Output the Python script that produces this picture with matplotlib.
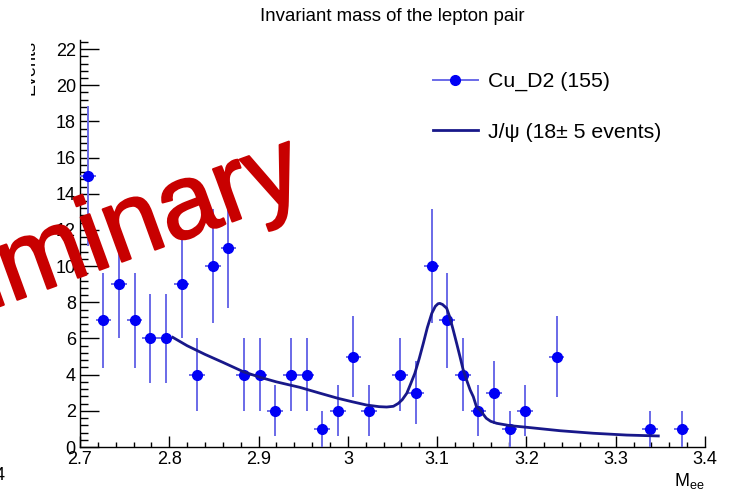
import numpy as np
import matplotlib
matplotlib.use('Agg')
import matplotlib.pyplot as plt
import matplotlib.patheffects as pe
from matplotlib.lines import Line2D
from matplotlib.patches import Rectangle

plt.rcParams['font.family'] = ['Liberation Sans', 'DejaVu Sans']
plt.rcParams['mathtext.default'] = 'regular'

# histogram: 40 bins between 2.7 and 3.4
mass_lo, mass_hi, nbins = 2.7, 3.4, 40
counts = [15, 7, 9, 7, 6, 6, 9, 4, 10, 11,
          4, 4, 2, 4, 4, 1, 2, 5, 2, 0,
          4, 3, 10, 7, 4, 2, 3, 1, 2, 0,
          5, 0, 0, 0, 0, 0, 1, 0, 1, 0]

# fit curve
fit_x = [2.804, 2.82, 2.84, 2.86, 2.883, 2.902, 2.92, 2.946, 2.969, 2.989,
         3.005, 3.021, 3.035, 3.0435, 3.051, 3.0565, 3.061, 3.066, 3.070, 3.075,
         3.080, 3.0845, 3.089, 3.094, 3.098, 3.101, 3.103, 3.106, 3.1107, 3.114,
         3.118, 3.122, 3.1256, 3.129, 3.133, 3.137, 3.1405, 3.144, 3.148, 3.155,
         3.160, 3.1667, 3.1816, 3.2003, 3.2376, 3.2749, 3.3123, 3.3477]
fit_y = [6.06, 5.60, 5.12, 4.68, 4.16, 3.85, 3.60, 3.30, 2.97, 2.69,
         2.50, 2.32, 2.23, 2.21, 2.25, 2.41, 2.62, 2.97, 3.45, 4.07,
         4.90, 5.73, 6.60, 7.39, 7.78, 7.92, 7.94, 7.88, 7.67, 7.20,
         6.47, 5.70, 4.99, 4.30, 3.70, 3.15, 2.78, 2.23, 2.05, 1.59,
         1.42, 1.31, 1.18, 1.09, 0.90, 0.76, 0.66, 0.61]

title = "Invariant mass of the lepton pair"
data_label = "Cu_D2 (155)"
fit_label = "J/\u03c8 (18\u00b1 5 events)"

edges = np.linspace(mass_lo, mass_hi, nbins + 1)
centers = 0.5 * (edges[:-1] + edges[1:])
counts = np.array(counts, dtype=float)
keep = counts > 0

W, H = 739, 492
fig = plt.figure(figsize=(W / 100, H / 100), dpi=100)
ax = fig.add_axes([80 / W, 1 - 447 / H, 625 / W, 407 / H])

ax.errorbar(centers[keep], counts[keep], yerr=np.sqrt(counts[keep]),
            xerr=0.5 * (edges[1] - edges[0]), fmt='o', color='#0000f5',
            ecolor='#6a6ae8', elinewidth=1.4, markersize=7, capsize=0, zorder=3)
ax.plot(fit_x, fit_y, color='#18188a', lw=2.0, zorder=4)

ax.set_xlim(mass_lo, mass_hi)
ax.set_ylim(0, 22.5)
ax.set_xticks(np.arange(2.7, 3.41, 0.1))
ax.set_xticklabels(['2.7', '2.8', '2.9', '3', '3.1', '3.2', '3.3', '3.4'])
ax.set_xticks(np.arange(2.7, 3.401, 0.02), minor=True)
ax.set_yticks(np.arange(0, 23, 2))
ax.set_yticks(np.arange(0, 22.5, 0.4), minor=True)
for s in ['top', 'right']:
    ax.spines[s].set_visible(False)
for s in ['left', 'bottom']:
    ax.spines[s].set_linewidth(1.0)
ax.tick_params(axis='both', which='both', direction='in', width=1.0, labelsize=13)
ax.tick_params(axis='y', which='major', length=13.5, pad=3)
ax.tick_params(axis='y', which='minor', length=5.8)
ax.tick_params(axis='x', which='major', length=8, pad=3)
ax.tick_params(axis='x', which='minor', length=3.6)

fig.text(392 / W, 1 - 21 / H, title, ha='center', va='baseline', fontsize=13.4)
fig.text(705 / W, 1 - 486 / H, 'M$_{ee}$', ha='right', va='baseline', fontsize=13)

# clipped y label and leftover label from the slide
fig.text(38 / W, 1 - 40 / H, 'Events', rotation=90, ha='right', va='top', fontsize=13)
fig.patches.append(Rectangle((0, 1 - 105 / H), 31 / W, 75 / H, transform=fig.transFigure,
                             facecolor='white', edgecolor='none', zorder=5))
fig.text(5 / W, 1 - 480 / H, '4', ha='right', va='baseline', fontsize=13)

handles = [Line2D([], [], color='#6a6ae8', lw=1.4, marker='o', markersize=7,
                  markerfacecolor='#0000f5', markeredgecolor='#0000f5'),
           Line2D([], [], color='#18188a', lw=2.0)]
fig.legend(handles, [data_label, fit_label], loc='upper left',
           bbox_to_anchor=(433 / W, 1 - 72 / H), frameon=False, fontsize=15.3,
           handlelength=2.1, handletextpad=0.47, labelspacing=1.49, borderpad=0,
           borderaxespad=0)

fig.text(308 / W, 1 - 194 / H, 'Preliminary', rotation=20, rotation_mode='anchor',
         ha='right', va='baseline', fontsize=76, color='#c80000', zorder=10,
         path_effects=[pe.withStroke(linewidth=1.5, foreground='#c80000')])

fig.savefig('out.png', dpi=100)
